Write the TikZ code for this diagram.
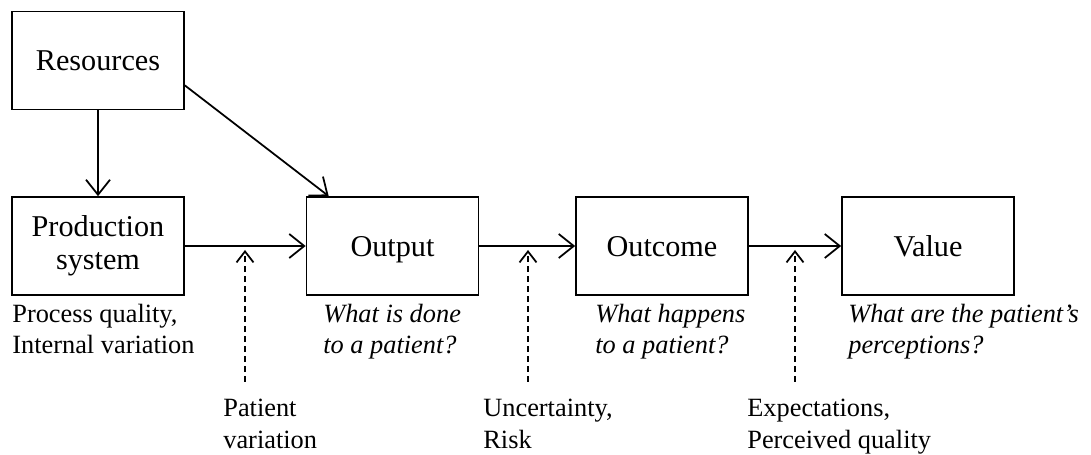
\documentclass[tikz,border=0pt]{standalone}
\usepackage{fontspec}
\setmainfont{Liberation Serif}
\usetikzlibrary{arrows.meta}

\tikzset{
  stage/.style={draw, line width=1pt, minimum width=3.44cm, minimum height=1.96cm,
    align=center, inner sep=0pt, font=\fontsize{17.2}{19}\selectfont},
  oneline/.style={text height=11.6pt, text depth=0pt},
  note/.style={anchor=base west, align=left, inner sep=0pt,
    font=\fontsize{15}{18.2}\selectfont},
  flow/.style={line width=1pt, -{Straight Barb[length=0.3cm,width=0.48cm]}},
  influence/.style={line width=1pt, dash pattern=on 0.12cm off 0.08cm,
    -{Straight Barb[length=0.22cm,width=0.34cm]}}
}

\begin{document}
\begin{tikzpicture}[x=0.02cm, y=-0.02cm]
\useasboundingbox (0,0) rectangle (1091,455);

% boxes
\node[stage, oneline] (res)  at (98,60.5)  {Resources};
\node[stage]          (prod) at (98,246)   {Production\\system};
\node[stage, oneline] (out)  at (392.5,246) {Output};
\node[stage, oneline] (outc) at (662,246)  {Outcome};
\node[stage, oneline] (val)  at (928,246)  {Value};

% main flow
\draw[flow] (res) -- (prod);
\draw[flow] (res.-16.5) -- (out.142.8);
\draw[flow] (prod) -- (out);
\draw[flow] (out) -- (outc);
\draw[flow] (outc) -- (val);

% notes under the boxes (placed at the baseline of their last line)
\node[note] (prodnote) at (12,354)  {Process quality,\\Internal variation};
\node[note] (outnote)  at (323,354) {\itshape What is done\\\itshape to a patient?};
\node[note] (outcnote) at (595,354) {\itshape What happens\\\itshape to a patient?};
\node[note] (valnote)  at (848,354) {\itshape What are the patient's\\\itshape perceptions?};

% outside influences
\node[note] (pvar) at (223,448) {Patient\\variation};
\node[note] (unc)  at (483,448) {Uncertainty,\\Risk};
\node[note] (expq) at (747,448) {Expectations,\\Perceived quality};

\coordinate (pvbot)  at (245,382);
\coordinate (pvtop)  at (245,250);
\coordinate (uncbot) at (528,382);
\coordinate (unctop) at (528,250);
\coordinate (expbot) at (795,382);
\coordinate (exptop) at (795,250);
\draw[influence] (pvbot) -- (pvtop);
\draw[influence] (uncbot) -- (unctop);
\draw[influence] (expbot) -- (exptop);
\end{tikzpicture}
\end{document}
